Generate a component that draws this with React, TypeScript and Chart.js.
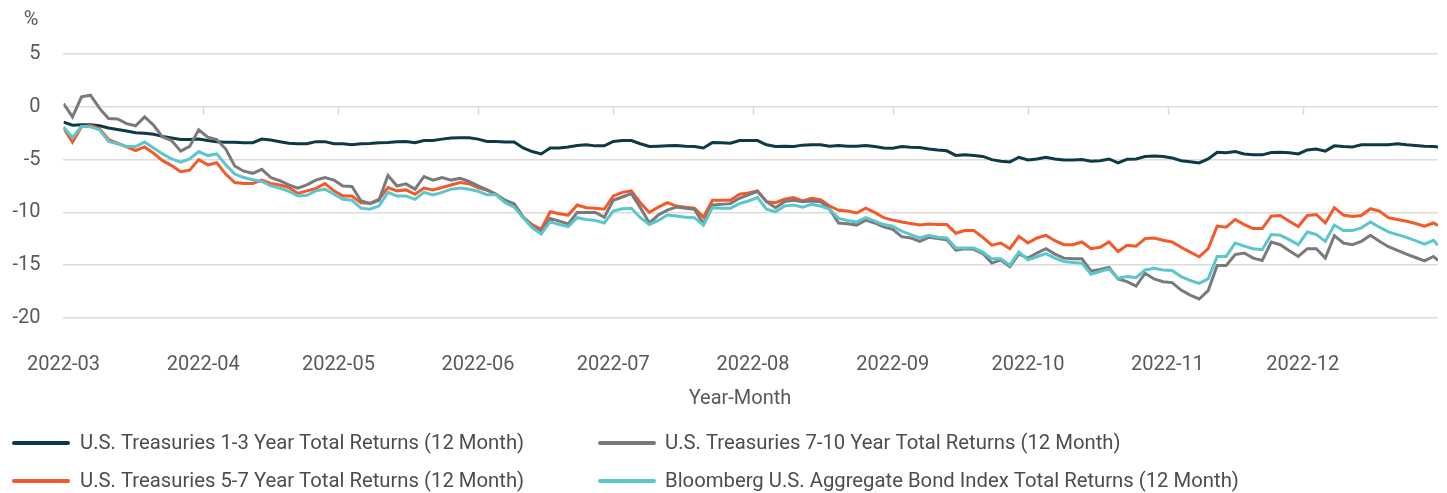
import React, { useEffect, useRef } from "react";
import { Chart, registerables } from "chart.js";
Chart.register(...registerables);

// Day offsets from 2022-03-01
const days = [
  0, 2, 4, 6, 8, 10, 12, 14, 16, 18, 20, 22, 24, 26, 28, 30, 32, 34, 36, 38, 40, 42,
  44, 46, 48, 50, 52, 54, 56, 58, 60, 62, 64, 66, 68, 70, 72, 74, 76, 78, 80, 82, 84, 86,
  88, 90, 92, 94, 96, 98, 100, 102, 104, 106, 108, 110, 112, 114, 116, 118, 120, 122, 124, 126, 128, 130,
  132, 134, 136, 138, 140, 142, 144, 146, 148, 150, 152, 154, 156, 158, 160, 162, 164, 166, 168, 170, 172,
  174, 176, 178, 180, 182, 184, 186, 188, 190, 192, 194, 196, 198, 200, 202, 204, 206, 208, 210, 212, 214, 216,
  218, 220, 222, 224, 226, 228, 230, 232, 234, 236, 238, 240, 242, 244, 246, 248, 250, 252, 254, 256, 258, 260,
  262, 264, 266, 268, 270, 272, 274, 276, 278, 280, 282, 284, 286, 288, 290, 292, 294, 296, 298, 300, 302, 304, 305,
];

const monthStartDays = [0, 31, 61, 92, 122, 153, 184, 214, 245, 275];
const monthLabels = ["2022-03", "2022-04", "2022-05", "2022-06", "2022-07", "2022-08", "2022-09", "2022-10", "2022-11", "2022-12"];

const yTicks = [5, 0, -5, -10, -15, -20];

const seriesNames = [
  "U.S. Treasuries 1-3 Year Total Returns (12 Month)",
  "U.S. Treasuries 7-10 Year Total Returns (12 Month)",
  "U.S. Treasuries 5-7 Year Total Returns (12 Month)",
  "Bloomberg U.S. Aggregate Bond Index Total Returns (12 Month)",
];

const t1to3 = [
  -1.45, -1.75, -1.7, -1.7, -1.8, -2.0, -2.15, -2.3, -2.45, -2.5, -2.6, -2.8, -2.95, -3.1, -3.1, -3.05, -3.2, -3.3, -3.35, -3.35, -3.4, -3.4,
  -3.05, -3.15, -3.3, -3.45, -3.5, -3.5, -3.3, -3.3, -3.5, -3.5, -3.6, -3.5, -3.47, -3.4, -3.37, -3.3, -3.28, -3.4, -3.2, -3.2, -3.06, -2.96,
  -2.93, -2.93, -3.06, -3.28, -3.28, -3.34, -3.34, -3.9, -4.24, -4.46, -3.9, -3.9, -3.8, -3.66, -3.6, -3.7, -3.7, -3.28, -3.2, -3.2, -3.5, -3.76,
  -3.73, -3.7, -3.66, -3.73, -3.76, -3.9, -3.38, -3.4, -3.44, -3.2, -3.2, -3.2, -3.6, -3.76, -3.73, -3.76, -3.63, -3.6, -3.6, -3.73, -3.66,
  -3.73, -3.73, -3.66, -3.76, -3.9, -3.92, -3.76, -3.82, -3.85, -4.0, -4.1, -4.17, -4.6, -4.55, -4.62, -4.7, -5.0, -5.16, -5.22, -4.78, -5.03, -4.94,
  -4.78, -4.94, -5.03, -5.03, -5.0, -5.16, -5.1, -4.94, -5.32, -4.97, -4.94, -4.7, -4.65, -4.7, -4.84, -5.1, -5.2, -5.32, -4.94, -4.3, -4.36, -4.24,
  -4.46, -4.55, -4.55, -4.33, -4.3, -4.36, -4.46, -4.08, -4.0, -4.2, -3.7, -3.76, -3.8, -3.6, -3.6, -3.6, -3.6, -3.5, -3.6, -3.66, -3.73, -3.75, -3.8,
];

const t7to10 = [
  0.3, -0.95, 0.95, 1.1, -0.15, -1.1, -1.15, -1.6, -1.8, -0.95, -1.75, -2.87, -3.2, -4.2, -3.75, -2.17, -2.87, -3.1, -4.0, -5.6, -6.1, -6.3,
  -5.92, -6.7, -7.0, -7.4, -7.7, -7.4, -6.94, -6.7, -6.94, -7.5, -7.55, -8.9, -9.17, -8.85, -6.5, -7.5, -7.3, -7.8, -6.6, -6.94, -6.7, -6.94,
  -6.78, -7.07, -7.48, -7.87, -8.28, -8.85, -9.17, -10.45, -11.3, -11.85, -10.57, -10.83, -11.1, -10.0, -10.0, -10.0, -10.45, -8.85, -8.54, -8.22, -9.55, -11.0,
  -10.25, -9.78, -9.5, -9.6, -9.7, -11.08, -9.3, -9.24, -9.17, -8.66, -8.34, -8.0, -8.98, -9.55, -8.98, -8.85, -8.98, -8.92, -8.98, -9.7, -11.0,
  -11.08, -11.2, -10.73, -11.0, -11.37, -11.6, -12.3, -12.42, -12.74, -12.36, -12.48, -12.58, -13.57, -13.44, -13.5, -13.9, -14.8, -14.5, -15.13, -13.95, -14.33, -13.85,
  -13.44, -13.95, -14.33, -14.4, -14.4, -15.54, -15.4, -15.22, -16.3, -16.56, -16.97, -15.76, -16.3, -16.56, -16.65, -17.36, -17.83, -18.2, -17.4, -15.03, -15.03, -14.0,
  -13.85, -14.33, -14.55, -12.8, -13.06, -13.63, -14.17, -13.44, -13.44, -14.33, -12.2, -12.9, -13.06, -12.74, -12.17, -12.74, -13.25, -13.6, -13.95, -14.27, -14.59, -14.17, -14.55,
];

const t5to7 = [
  -2.0, -3.35, -1.9, -1.78, -2.07, -3.1, -3.44, -3.8, -4.14, -3.8, -4.4, -5.1, -5.57, -6.15, -6.0, -5.0, -5.5, -5.3, -6.37, -7.17, -7.26, -7.26,
  -6.94, -7.26, -7.4, -7.64, -8.2, -7.96, -7.74, -7.26, -7.96, -8.44, -8.44, -9.08, -9.14, -8.76, -7.64, -7.96, -7.87, -8.28, -7.7, -7.87, -7.64, -7.4,
  -7.17, -7.3, -7.64, -7.9, -8.28, -8.98, -9.24, -10.45, -11.15, -11.6, -9.94, -10.13, -10.25, -9.3, -9.55, -9.6, -9.7, -8.44, -8.1, -7.96, -9.08, -10.0,
  -9.5, -9.08, -9.4, -9.5, -9.6, -10.45, -8.85, -8.85, -8.85, -8.28, -8.15, -7.96, -8.98, -9.08, -8.76, -8.6, -8.92, -8.66, -8.8, -9.4, -9.8,
  -9.87, -10.06, -9.6, -10.0, -10.5, -10.73, -10.9, -11.05, -11.2, -11.1, -11.15, -11.15, -11.97, -11.72, -11.72, -12.36, -13.1, -12.9, -13.44, -12.26, -12.9, -12.42,
  -12.17, -12.68, -13.06, -13.06, -12.8, -13.44, -13.3, -12.8, -13.7, -13.12, -13.2, -12.48, -12.42, -12.64, -12.8, -13.3, -13.76, -14.2, -13.44, -11.3, -11.4, -10.67,
  -11.15, -11.53, -11.53, -10.35, -10.29, -10.83, -11.34, -10.29, -10.2, -11.0, -9.55, -10.25, -10.38, -10.29, -9.65, -9.87, -10.5, -10.67, -10.83, -11.05, -11.3, -11.0, -11.24,
];

const aggIndex = [
  -1.9, -2.93, -1.85, -1.9, -2.17, -3.28, -3.5, -3.76, -3.76, -3.34, -3.9, -4.46, -4.94, -5.25, -4.94, -4.24, -4.62, -4.46, -5.48, -6.37, -6.7, -6.9,
  -7.07, -7.48, -7.7, -8.0, -8.44, -8.38, -7.96, -7.8, -8.28, -8.76, -8.85, -9.6, -9.7, -9.4, -8.1, -8.44, -8.44, -8.76, -8.1, -8.34, -8.1, -7.8,
  -7.7, -7.8, -8.0, -8.34, -8.34, -9.08, -9.5, -10.5, -11.46, -12.04, -10.9, -11.15, -11.34, -10.5, -10.67, -10.76, -11.0, -9.87, -9.65, -9.6, -10.5, -11.15,
  -10.76, -10.25, -10.35, -10.45, -10.5, -11.2, -9.55, -9.6, -9.6, -9.17, -8.92, -8.6, -9.7, -9.94, -9.4, -9.3, -9.5, -9.24, -9.4, -9.7, -10.57,
  -10.76, -10.9, -10.5, -10.83, -11.15, -11.3, -11.78, -12.1, -12.42, -12.17, -12.36, -12.42, -13.38, -13.38, -13.38, -13.76, -14.4, -14.4, -15.0, -13.76, -14.5, -14.2,
  -13.9, -14.33, -14.65, -14.74, -14.8, -15.86, -15.6, -15.35, -16.24, -16.08, -16.18, -15.45, -15.3, -15.45, -15.5, -16.08, -16.43, -16.72, -16.3, -14.17, -14.17, -12.9,
  -13.2, -13.44, -13.53, -12.1, -12.17, -12.58, -13.06, -11.85, -12.1, -12.74, -11.2, -11.72, -11.72, -11.46, -10.9, -11.4, -11.85, -12.1, -12.36, -12.67, -13.0, -12.64, -13.12,
];

const colors = ["#0c3a47", "#7a7a7c", "#f4592a", "#5cc6cd"];
const FONT = "Roboto, 'DejaVu Sans', sans-serif";
const TEXT = "#595959";

function toPoints(vals: number[]) {
  return vals.map((v, i) => ({ x: days[i], y: v }));
}

const extrasPlugin = {
  id: "extras",
  beforeDatasetsDraw(chart: any) {
    const { ctx, scales } = chart;
    const x = scales.x;
    const y = scales.y;
    const y0 = y.getPixelForValue(0);
    ctx.save();
    ctx.strokeStyle = "#d9d9d9";
    ctx.lineWidth = 1.5;
    monthStartDays.slice(1).forEach((d) => {
      const px = Math.round(x.getPixelForValue(d)) + 0.5;
      ctx.beginPath();
      ctx.moveTo(px, y0);
      ctx.lineTo(px, y0 + 8);
      ctx.stroke();
    });
    ctx.restore();
  },
  afterDraw(chart: any) {
    const { ctx } = chart;
    ctx.save();
    ctx.fillStyle = TEXT;
    ctx.font = `20px ${FONT}`;
    ctx.textAlign = "center";
    ctx.textBaseline = "middle";
    ctx.fillText("%", 31, 20);
    ctx.fillText("Year-Month", 740, 399);

    const items = [
      { i: 0, lx: 12, tx: 80, y: 444 },
      { i: 1, lx: 598, tx: 665, y: 444 },
      { i: 2, lx: 12, tx: 80, y: 482 },
      { i: 3, lx: 598, tx: 665, y: 482 },
    ];
    ctx.font = `20.3px ${FONT}`;
    ctx.textAlign = "left";
    items.forEach((it) => {
      ctx.strokeStyle = colors[it.i];
      ctx.lineWidth = 4;
      ctx.lineCap = "round";
      ctx.beginPath();
      ctx.moveTo(it.lx + 2, it.y - 1);
      ctx.lineTo(it.lx + 56, it.y - 1);
      ctx.stroke();
      ctx.fillStyle = "#4d4d4d";
      ctx.fillText(seriesNames[it.i], it.tx, it.y);
    });
    ctx.restore();
  },
};

export default function App() {
  const ref = useRef<HTMLCanvasElement | null>(null);

  useEffect(() => {
    document.body.style.margin = "0";
    if (!ref.current) return;
    const seriesVals = [t1to3, t7to10, t5to7, aggIndex];
    const orders = [3, 1, 2, 0];
    const chart = new Chart(ref.current, {
      type: "line",
      data: {
        datasets: seriesVals.map((vals, i) => ({
          label: seriesNames[i],
          data: toPoints(vals),
          borderColor: colors[i],
          backgroundColor: colors[i],
          borderWidth: 3,
          pointRadius: 0,
          tension: 0,
          fill: false,
          order: orders[i],
        })),
      },
      options: {
        responsive: false,
        animation: false,
        layout: { padding: { left: 0, right: 9, top: 54, bottom: 120 } },
        plugins: { legend: { display: false }, tooltip: { enabled: false } },
        scales: {
          x: {
            type: "linear",
            min: 0,
            max: 305,
            grid: { display: false },
            border: { display: false },
            afterBuildTicks: (s: any) => {
              s.ticks = monthStartDays.map((v) => ({ value: v }));
            },
            afterFit: (s: any) => {
              s.height = 55;
            },
            ticks: {
              autoSkip: false,
              maxRotation: 0,
              minRotation: 0,
              padding: 27,
              color: TEXT,
              font: { family: FONT, size: 20 },
              callback: (v: any) => {
                const idx = monthStartDays.indexOf(Number(v));
                return idx >= 0 ? monthLabels[idx] : "";
              },
            },
          },
          y: {
            min: -20,
            max: 5,
            afterBuildTicks: (s: any) => {
              s.ticks = yTicks.map((v) => ({ value: v }));
            },
            afterFit: (s: any) => {
              s.width = 63;
            },
            grid: { color: "#dcdcdc", lineWidth: 1.5, drawTicks: false },
            border: { display: false },
            ticks: {
              padding: 23,
              color: TEXT,
              font: { family: FONT, size: 20 },
            },
          },
        },
      },
      plugins: [extrasPlugin],
    } as any);
    return () => chart.destroy();
  }, []);

  return <canvas ref={ref} width={1447} height={493} style={{ display: "block" }} />;
}
